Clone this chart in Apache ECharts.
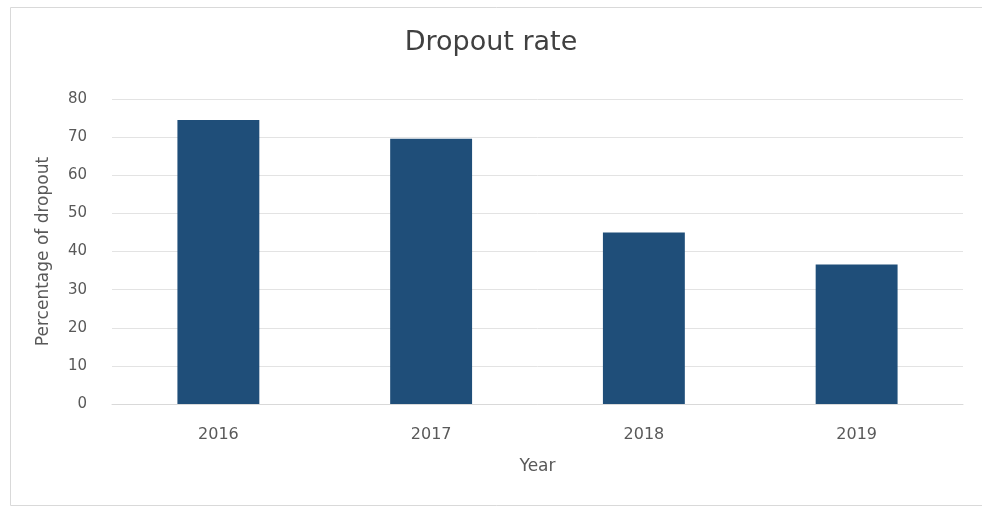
<!DOCTYPE html>
<html>
<head>
<meta charset="utf-8">
<script src="https://cdn.jsdelivr.net/npm/echarts@6/dist/echarts.min.js"></script>
<style>
  html, body { margin: 0; padding: 0; background: #fff; }
  #chart { width: 982px; height: 508px; }
</style>
</head>
<body>
<div id="chart"></div>
<script>
// chart data
const years = ['2016', '2017', '2018', '2019']
const dropoutRate = [74.5, 69.6, 45, 36.6]
const yTicks = { min: 0, max: 80, interval: 10 }

const chart = echarts.init(document.getElementById('chart'))
const option = {
  animation: false,
  textStyle: { fontFamily: '"DejaVu Sans", sans-serif' },
  graphic: [
    {
      // outer chart-area border
      type: 'rect',
      shape: { x: 10.5, y: 7.5, width: 990, height: 498 },
      style: { fill: 'none', stroke: '#d9d9d9', lineWidth: 1 },
      silent: true
    }
  ],
  title: {
    text: 'Dropout rate',
    left: 'center',
    top: 24,
    textStyle: { color: '#404040', fontSize: 27, fontWeight: 'normal' }
  },
  grid: {
    left: 112,
    right: 19,
    top: 99,
    bottom: 104
  },
  xAxis: {
    type: 'category',
    data: years,
    name: 'Year',
    nameLocation: 'middle',
    nameGap: 54,
    nameTextStyle: { color: '#595959', fontSize: 17 },
    axisLine: { lineStyle: { color: '#d9d9d9' } },
    axisTick: { show: false },
    axisLabel: { color: '#595959', fontSize: 16, margin: 23 }
  },
  yAxis: {
    type: 'value',
    min: yTicks.min,
    max: yTicks.max,
    interval: yTicks.interval,
    name: 'Percentage of dropout',
    nameLocation: 'middle',
    nameGap: 60,
    nameTextStyle: { color: '#595959', fontSize: 17 },
    axisLine: { show: false },
    axisTick: { show: false },
    axisLabel: { color: '#595959', fontSize: 15, margin: 25 },
    splitLine: { lineStyle: { color: '#e3e3e3' } }
  },
  series: [
    {
      type: 'bar',
      data: dropoutRate,
      barWidth: '38.5%',
      itemStyle: { color: '#1f4e79' }
    }
  ]
}
chart.setOption(option)
</script>
</body>
</html>
